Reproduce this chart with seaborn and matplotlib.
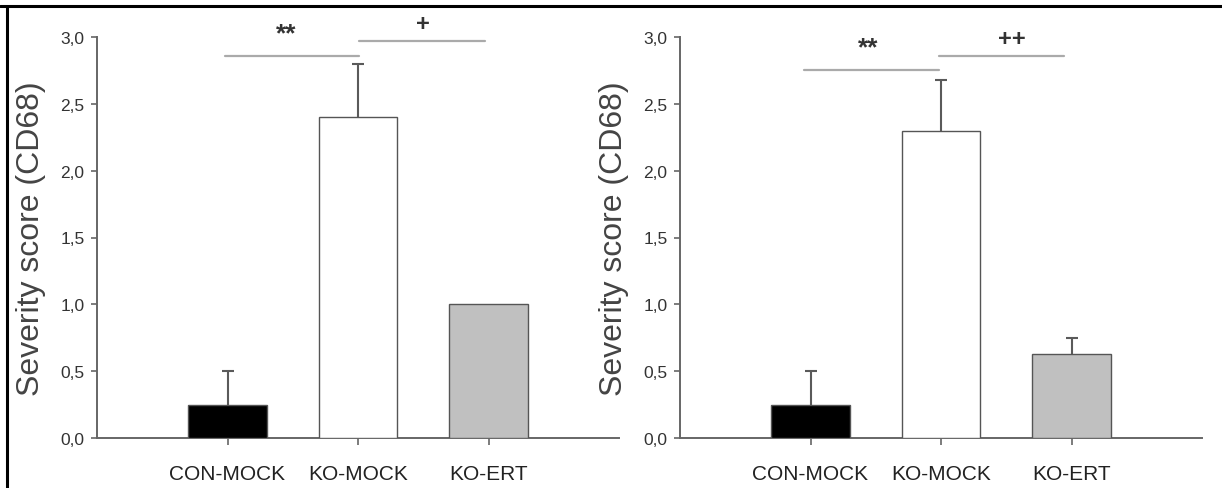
import numpy as np
import matplotlib
matplotlib.use("Agg")
import matplotlib.pyplot as plt
import seaborn as sns
from matplotlib.lines import Line2D

# ---- data ----
categories = ["CON-MOCK", "KO-MOCK", "KO-ERT"]
bar_colors = ["#000000", "#ffffff", "#c0c0c0"]

left_mean = [0.25, 2.40, 1.00]
left_err = [0.25, 0.40, 0.00]
right_mean = [0.25, 2.30, 0.625]
right_err = [0.25, 0.38, 0.125]

y_ticks = [0.0, 0.5, 1.0, 1.5, 2.0, 2.5, 3.0]
y_label = "Severity score (CD68)"

# significance: (text, line start, line end, line value, text x, text value, size)
left_sig = [("**", -0.02, 1.01, 2.86, 0.45, 3.03, 19),
            ("+", 1.01, 1.97, 2.97, 1.50, 3.10, 17)]
right_sig = [("**", -0.05, 0.985, 2.75, 0.44, 2.92, 19),
             ("++", 0.985, 1.94, 2.86, 1.54, 2.99, 17)]

sns.set_theme(style="white")
plt.rcParams["font.family"] = ["Liberation Sans", "DejaVu Sans"]

W, H = 1222, 489
fig = plt.figure(figsize=(W / 100, H / 100), dpi=100)
fig.patch.set_facecolor("white")

def px_axes(x0, x1, ytop, ybot):
    return fig.add_axes([x0 / W, 1 - ybot / H, (x1 - x0) / W, (ybot - ytop) / H])

axL = px_axes(97, 619, 38, 439)
axR = px_axes(680, 1202, 38, 439)

spine_c = "#666666"
text_c = "#333333"

def draw(ax, means, errs, sig):
    sns.barplot(x=categories, y=means, hue=categories, palette=bar_colors,
                legend=False, width=0.6, edgecolor="#555555", linewidth=1.0,
                ax=ax, zorder=3)
    pos = np.arange(len(categories))
    e = np.array(errs)
    mask = e > 0
    _, caps, _ = ax.errorbar(pos[mask], np.array(means)[mask],
                             yerr=[np.zeros(mask.sum()), e[mask]], fmt="none",
                             ecolor="#5a5a5a", elinewidth=1.5, capsize=4,
                             capthick=1.5, zorder=2)
    if len(caps) == 2:
        caps[0].set_visible(False)  # hide the lower cap
    ax.set_xlim(-1, 3)
    ax.set_ylim(0, 3.0)
    ax.set_yticks(y_ticks)
    ax.set_yticklabels([f"{v:.1f}".replace(".", ",") for v in y_ticks])
    ax.set_xticks(pos)
    ax.set_xticklabels(categories)
    for s in ["top", "right"]:
        ax.spines[s].set_visible(False)
    for s in ["left", "bottom"]:
        ax.spines[s].set_color(spine_c)
        ax.spines[s].set_linewidth(1.4)
    ax.tick_params(axis="y", direction="out", length=4, width=1.2,
                   color=spine_c, labelsize=12.5, labelcolor=text_c, pad=5,
                   left=True)
    ax.tick_params(axis="x", direction="out", length=5, width=1.2,
                   color=spine_c, labelsize=15, labelcolor="#222222", pad=14,
                   bottom=True)
    ax.set_xlabel("")
    ax.set_ylabel(y_label, fontsize=23, color="#444444", labelpad=10)
    ax.grid(False)
    for txt, x0, x1, yl, xt, yt, fs in sig:
        ax.plot([x0, x1], [yl, yl], color="#aaaaaa", lw=1.6,
                clip_on=False, zorder=4)
        ax.text(xt, yt, txt, ha="center", va="center",
                fontsize=fs, fontweight="bold", color="#333333", clip_on=False)

draw(axL, left_mean, left_err, left_sig)
draw(axR, right_mean, right_err, right_sig)

# outer frame (top and left)
fig.add_artist(Line2D([0, 1], [1 - 7 / H, 1 - 7 / H], transform=fig.transFigure,
                      color="black", lw=2.2))
fig.add_artist(Line2D([7 / W, 7 / W], [0, 1 - 7 / H], transform=fig.transFigure,
                      color="black", lw=2.2))

fig.savefig("out.png", dpi=100, facecolor="white")
